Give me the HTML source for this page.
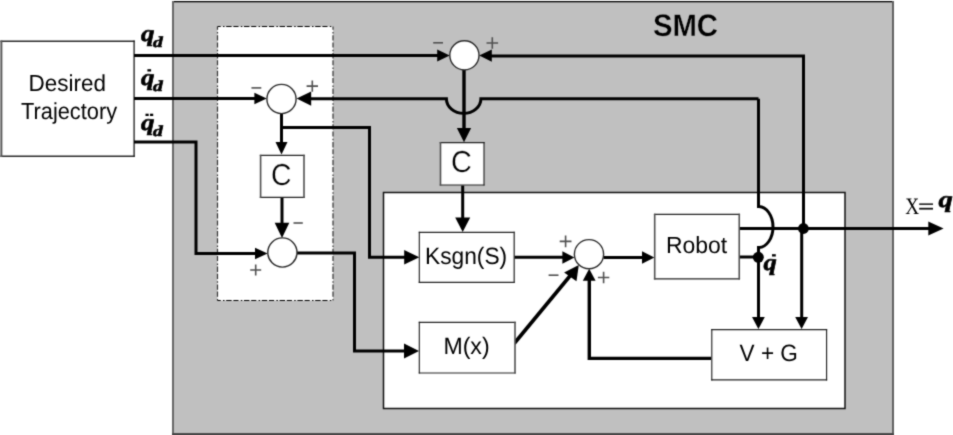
<!DOCTYPE html>
<html><head><meta charset="utf-8"><style>
html,body{margin:0;padding:0;background:#fff;width:953px;height:435px;overflow:hidden}
svg{display:block} text{text-rendering:geometricPrecision}
</style></head><body>
<svg width="953" height="435" viewBox="0 0 953 435" style="transform:translateZ(0)">
<defs><filter id="soft" filterUnits="userSpaceOnUse" x="0" y="0" width="953" height="435" color-interpolation-filters="sRGB"><feConvolveMatrix order="3" kernelMatrix="0.03 0.1 0.03 0.1 0.48 0.1 0.03 0.1 0.03" edgeMode="duplicate"/></filter></defs>
<g filter="url(#soft)">
<rect x="0" y="0" width="953" height="435" fill="#fff"/>
<rect x="172" y="1" width="722" height="434" fill="#c0c0c0"/>
<rect x="172" y="1" width="722" height="1.3" fill="#000"/>
<rect x="172" y="1" width="2" height="434" fill="#686868"/>
<rect x="892" y="1" width="2" height="434" fill="#626262"/>
<rect x="172" y="433" width="722" height="2" fill="#4a4a4a"/>
<rect x="217.5" y="26.5" width="115.5" height="274" fill="#fff"/>
<path d="M217.5 26.5 H333" stroke="#000" stroke-width="1.2" fill="none" stroke-dasharray="5.4 1.8 5.1 2.3 1.5 1.7" stroke-dashoffset="9.1"/>
<path d="M217.5 26.5 V300.5" stroke="#333" stroke-width="1.2" fill="none" stroke-dasharray="5.4 1.8 5.1 2.3 1.5 1.7" stroke-dashoffset="9.1"/>
<path d="M333 26.5 V300.5" stroke="#333" stroke-width="1.2" fill="none" stroke-dasharray="5.4 1.8 5.1 2.3 1.5 1.7" stroke-dashoffset="9.1"/>
<path d="M217.5 300.5 H333" stroke="#000" stroke-width="1.2" fill="none" stroke-dasharray="5.4 1.8 5.1 2.3 1.5 1.7" stroke-dashoffset="9.1"/>
<rect x="383.5" y="192.5" width="461.5" height="216" fill="#fff" stroke="#111" stroke-width="1.5"/>
<rect x="1.5" y="41.2" width="132.5" height="115" fill="#fff"/>
<path d="M0.5 41.2 H134.7 M0.5 156.3 H134.7" stroke="#2a2a2a" stroke-width="1.4" fill="none"/>
<path d="M1.4 40.5 V157" stroke="#555" stroke-width="1.9" fill="none"/>
<path d="M134.1 40.5 V157" stroke="#1a1a1a" stroke-width="1.3" fill="none"/>
<path d="M134 55.5 H440" stroke="#000" stroke-width="3" fill="none" stroke-linejoin="miter" stroke-linecap="butt"/>
<polygon points="449.70,55.50 437.20,61.50 437.20,49.50"/>
<path d="M134 98.5 H257" stroke="#000" stroke-width="3" fill="none" stroke-linejoin="miter" stroke-linecap="butt"/>
<polygon points="266.70,98.50 254.40,104.30 254.40,92.70"/>
<path d="M134 142 H196 V253.5 H258" stroke="#000" stroke-width="3" fill="none" stroke-linejoin="miter" stroke-linecap="butt"/>
<polygon points="267.60,253.50 255.00,259.30 255.00,247.70"/>
<path d="M281.5 113 V145" stroke="#000" stroke-width="3" fill="none" stroke-linejoin="miter" stroke-linecap="butt"/>
<polygon points="281.50,154.50 275.50,142.00 287.50,142.00"/>
<path d="M281.5 127.5 H369.5 V257.3 H406" stroke="#000" stroke-width="3" fill="none" stroke-linejoin="miter" stroke-linecap="butt"/>
<polygon points="419.30,257.30 404.20,264.60 404.20,250.00"/>
<path d="M282 197 V226" stroke="#000" stroke-width="3" fill="none" stroke-linejoin="miter" stroke-linecap="butt"/>
<polygon points="282.00,237.90 274.70,222.80 289.30,222.80"/>
<path d="M297 253 H354.5 V351.1 H406" stroke="#000" stroke-width="3" fill="none" stroke-linejoin="miter" stroke-linecap="butt"/>
<polygon points="419.00,351.10 404.00,358.60 404.00,343.60"/>
<path d="M514 257.3 H564" stroke="#000" stroke-width="3" fill="none" stroke-linejoin="miter" stroke-linecap="butt"/>
<polygon points="574.40,257.50 562.40,263.80 562.40,251.20"/>
<path d="M603.5 257.5 H644" stroke="#000" stroke-width="3" fill="none" stroke-linejoin="miter" stroke-linecap="butt"/>
<polygon points="654.40,257.50 642.00,263.70 642.00,251.30"/>
<path d="M740 228.5 H930" stroke="#000" stroke-width="3" fill="none" stroke-linejoin="miter" stroke-linecap="butt"/>
<polygon points="943.60,228.50 928.30,235.50 928.30,221.50"/>
<path d="M801.7 229 V318" stroke="#000" stroke-width="3" fill="none" stroke-linejoin="miter" stroke-linecap="butt"/>
<polygon points="801.60,329.00 795.20,317.00 808.00,317.00"/>
<path d="M803.5 228.5 V56 H490" stroke="#000" stroke-width="3" fill="none" stroke-linejoin="miter" stroke-linecap="butt"/>
<polygon points="479.20,55.60 491.80,49.40 491.80,61.80"/>
<path d="M464 70 V130" stroke="#000" stroke-width="3.4" fill="none"/>
<polygon points="464.00,142.30 456.90,128.00 471.10,128.00"/>
<path d="M462.7 185.5 V220" stroke="#000" stroke-width="3" fill="none" stroke-linejoin="miter" stroke-linecap="butt"/>
<polygon points="462.70,232.00 455.20,217.60 470.20,217.60"/>
<path d="M740 257 H758.4" stroke="#000" stroke-width="3" fill="none" stroke-linejoin="miter" stroke-linecap="butt"/>
<path d="M758.5 98.7 V206.5 A14.5 20.5 0 0 1 758.5 247.5 V318" stroke="#000" stroke-width="3" fill="none" stroke-linejoin="miter" stroke-linecap="butt"/>
<polygon points="758.40,329.00 752.00,317.00 764.80,317.00"/>
<path d="M758.5 98.7 H480.9 A17.2 14.6 0 0 1 446.4 98.7 H310" stroke="#000" stroke-width="3" fill="none" stroke-linejoin="miter" stroke-linecap="butt"/>
<polygon points="296.60,98.60 311.20,91.50 311.20,105.70"/>
<path d="M514.2 343.5 L572 273.5" stroke="#000" stroke-width="3.6" fill="none"/>
<polygon points="578.80,265.00 576.48,281.32 564.12,272.48"/>
<path d="M711 358.4 H589.3 V279" stroke="#000" stroke-width="3.4" fill="none"/>
<polygon points="589.20,268.70 595.60,280.70 582.80,280.70"/>
<circle cx="464.4" cy="55.3" r="14.6" fill="#fff" stroke="#2a2a2a" stroke-width="1.4"/>
<circle cx="281.5" cy="99" r="14.6" fill="#fff" stroke="#2a2a2a" stroke-width="1.4"/>
<circle cx="282.4" cy="252.5" r="14.6" fill="#fff" stroke="#2a2a2a" stroke-width="1.4"/>
<circle cx="589" cy="254.2" r="14.6" fill="#fff" stroke="#2a2a2a" stroke-width="1.4"/>
<circle cx="803.4" cy="228.5" r="5.4" fill="#000"/>
<circle cx="758.3" cy="257.3" r="5.5" fill="#000"/>
<rect x="260.6" y="155.4" width="43.39999999999998" height="42.0" fill="#fff"/>
<path d="M259.8 155.4 H304.8 M259.8 197.4 H304.8" stroke="#222" stroke-width="1.2" fill="none"/>
<path d="M260.6 154.8 V198.0" stroke="#505050" stroke-width="1.6" fill="none"/>
<path d="M304 154.8 V198.0" stroke="#505050" stroke-width="1.6" fill="none"/>
<rect x="440.5" y="142.6" width="43.5" height="42.400000000000006" fill="#fff"/>
<path d="M439.7 142.6 H484.55 M439.7 185.0 H484.55" stroke="#222" stroke-width="1.2" fill="none"/>
<path d="M440.5 142.0 V185.6" stroke="#505050" stroke-width="1.6" fill="none"/>
<path d="M484.0 142.0 V185.6" stroke="#1a1a1a" stroke-width="1.1" fill="none"/>
<rect x="419.3" y="232.3" width="94.90000000000003" height="50.0" fill="#fff"/>
<path d="M418.75 232.3 H514.85 M418.75 282.3 H514.85" stroke="#222" stroke-width="1.2" fill="none"/>
<path d="M419.3 231.70000000000002 V282.90000000000003" stroke="#1a1a1a" stroke-width="1.1" fill="none"/>
<path d="M514.2 231.70000000000002 V282.90000000000003" stroke="#333" stroke-width="1.3" fill="none"/>
<rect x="419.3" y="322.3" width="95.69999999999999" height="50.69999999999999" fill="#fff"/>
<path d="M418.75 322.3 H515.8 M418.75 373.0 H515.8" stroke="#222" stroke-width="1.2" fill="none"/>
<path d="M419.3 321.7 V373.6" stroke="#1a1a1a" stroke-width="1.1" fill="none"/>
<path d="M515 321.7 V373.6" stroke="#505050" stroke-width="1.6" fill="none"/>
<rect x="654.7" y="214.3" width="84.54999999999995" height="64.59999999999997" fill="#fff"/>
<path d="M653.9000000000001 214.3 H740.05 M653.9000000000001 278.9 H740.05" stroke="#222" stroke-width="1.2" fill="none"/>
<path d="M654.7 213.70000000000002 V279.5" stroke="#505050" stroke-width="1.6" fill="none"/>
<path d="M739.25 213.70000000000002 V279.5" stroke="#505050" stroke-width="1.6" fill="none"/>
<rect x="711.8" y="329.6" width="114.80000000000007" height="50.19999999999999" fill="#fff"/>
<path d="M711.25 329.6 H827.15 M711.25 379.8 H827.15" stroke="#222" stroke-width="1.2" fill="none"/>
<path d="M711.8 329.0 V380.40000000000003" stroke="#1a1a1a" stroke-width="1.1" fill="none"/>
<path d="M826.6 329.0 V380.40000000000003" stroke="#1a1a1a" stroke-width="1.1" fill="none"/>
<path d="M433.2 42.8 H443" stroke="#505050" stroke-width="1.6"/>
<path d="M486.5 43 H498.1 M492.3 37.2 V48.8" stroke="#505050" stroke-width="1.6"/>
<path d="M251.5 87.9 H261.3" stroke="#505050" stroke-width="1.6"/>
<path d="M306.6 86.1 H318.0 M312.3 80.39999999999999 V91.8" stroke="#505050" stroke-width="1.6"/>
<path d="M293.5 223 H302.8" stroke="#505050" stroke-width="1.6"/>
<path d="M250.2 270 H261.2 M255.7 264.5 V275.5" stroke="#505050" stroke-width="1.6"/>
<path d="M559.7 241.4 H571.5 M565.6 235.5 V247.3" stroke="#505050" stroke-width="1.6"/>
<path d="M548.6 275.2 H558.5" stroke="#505050" stroke-width="1.6"/>
<path d="M597.9 277.5 H609.3000000000001 M603.6 271.8 V283.2" stroke="#505050" stroke-width="1.6"/>
<text transform="translate(28.60,91.00) scale(0.970,1)" x="0" y="0" font-size="23.20"  font-family="Liberation Sans, sans-serif" fill="#000">Desired</text>
<text transform="translate(21.00,118.70) scale(0.940,1)" x="0" y="0" font-size="23.20"  font-family="Liberation Sans, sans-serif" fill="#000">Trajectory</text>
<text transform="translate(652.90,35.80) scale(0.945,1)" x="0" y="0" font-size="31.00" font-weight="bold" stroke="#c0c0c0" stroke-width="0.35" font-family="Liberation Sans, sans-serif" fill="#000">SMC</text>
<text transform="translate(271.00,184.60) scale(0.935,1)" x="0" y="0" font-size="30.30" stroke="#fff" stroke-width="0.3" font-family="Liberation Sans, sans-serif" fill="#000">C</text>
<text transform="translate(451.00,172.30) scale(0.950,1)" x="0" y="0" font-size="30.30" stroke="#fff" stroke-width="0.3" font-family="Liberation Sans, sans-serif" fill="#000">C</text>
<text transform="translate(425.00,263.60) scale(0.960,1)" x="0" y="0" font-size="23.70"  font-family="Liberation Sans, sans-serif" fill="#000">Ksgn(S)</text>
<text transform="translate(443.40,353.70) scale(0.976,1)" x="0" y="0" font-size="23.70"  font-family="Liberation Sans, sans-serif" fill="#000">M(x)</text>
<text transform="translate(665.90,252.60) scale(0.980,1)" x="0" y="0" font-size="23.40"  font-family="Liberation Sans, sans-serif" fill="#000">Robot</text>
<text transform="translate(739.57,360.90) scale(0.957,1)" x="0" y="0" font-size="23.60"  font-family="Liberation Sans, sans-serif" fill="#000">V + G</text>
<text transform="translate(905.20,213.50) scale(0.820,1)" x="0" y="0" font-size="23.50"  font-family="Liberation Serif, serif" fill="#000">X</text>
<rect x="919.2" y="203.4" width="13.8" height="1.5" fill="#111"/>
<rect x="919.2" y="207.8" width="13.8" height="1.8" fill="#111"/>
<text transform="translate(938.60,207.30) scale(1.240,1)" x="0" y="0" font-size="23.00" font-weight="bold" font-style="italic" stroke="#000" stroke-width="0.6" font-family="Liberation Serif, serif" fill="#000">q</text>
<text transform="translate(140.90,41.00) scale(1.170,1)" x="0" y="0" font-size="23.00" font-weight="bold" font-style="italic" stroke="#000" stroke-width="0.6" font-family="Liberation Serif, serif" fill="#000">q</text>
<text transform="translate(152.90,46.80) scale(1.300,1)" x="0" y="0" font-size="15.00" font-weight="bold" font-style="italic" stroke="#000" stroke-width="0.6" font-family="Liberation Serif, serif" fill="#000">d</text>
<text transform="translate(140.90,85.00) scale(1.170,1)" x="0" y="0" font-size="23.00" font-weight="bold" font-style="italic" stroke="#000" stroke-width="0.6" font-family="Liberation Serif, serif" fill="#000">q</text>
<text transform="translate(152.90,90.80) scale(1.300,1)" x="0" y="0" font-size="15.00" font-weight="bold" font-style="italic" stroke="#000" stroke-width="0.6" font-family="Liberation Serif, serif" fill="#000">d</text>
<text transform="translate(140.90,130.00) scale(1.170,1)" x="0" y="0" font-size="23.00" font-weight="bold" font-style="italic" stroke="#000" stroke-width="0.6" font-family="Liberation Serif, serif" fill="#000">q</text>
<text transform="translate(152.90,135.80) scale(1.300,1)" x="0" y="0" font-size="15.00" font-weight="bold" font-style="italic" stroke="#000" stroke-width="0.6" font-family="Liberation Serif, serif" fill="#000">d</text>
<text transform="translate(763.60,270.20) scale(1.150,1)" x="0" y="0" font-size="23.00" font-weight="bold" font-style="italic" stroke="#000" stroke-width="0.6" font-family="Liberation Serif, serif" fill="#000">q</text>
<rect x="147.4" y="69.2" width="3.7" height="2.3" fill="#000"/>
<rect x="145.5" y="113.7" width="3.2" height="2.3" fill="#000"/>
<rect x="150" y="113.7" width="3.2" height="2.3" fill="#000"/>
<rect x="772" y="254.2" width="3.8" height="2.3" fill="#000"/>
</g>
</svg>
</body></html>
